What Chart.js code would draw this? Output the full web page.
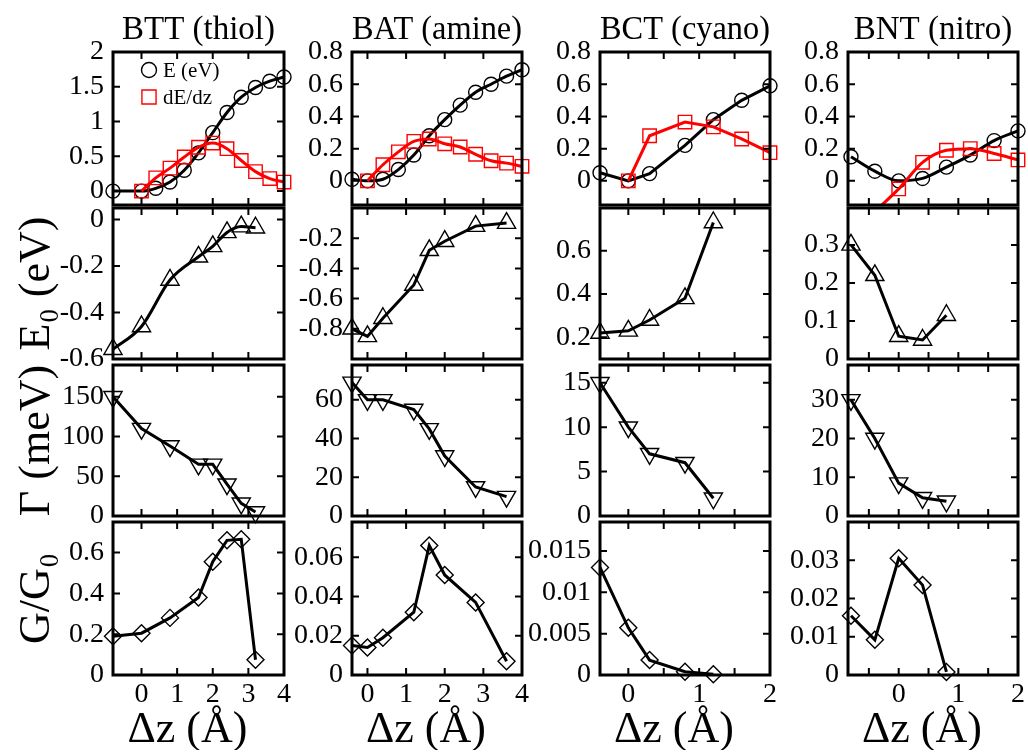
<!DOCTYPE html>
<html>
<head>
<meta charset="utf-8">
<script src="https://cdn.jsdelivr.net/npm/chart.js@4.4.1/dist/chart.umd.min.js"></script>
<style>
  body { margin: 0; background: #fff; width: 1028px; height: 753px; overflow: hidden; position: relative; }
  canvas { position: absolute; }
</style>
</head>
<body>
<script>
const FONT = "'Liberation Serif', 'DejaVu Serif', serif";

// ---- data ----
// BTT (thiol)
const bttZe = [-0.8, 0, 0.4, 0.8, 1.2, 1.6, 2.0, 2.4, 2.8, 3.2, 3.6, 4.0];
const bttE = [0.0, 0.0, 0.04, 0.13, 0.30, 0.55, 0.84, 1.13, 1.35, 1.49, 1.58, 1.64];
const bttZd = [0, 0.4, 0.8, 1.2, 1.6, 2.0, 2.4, 2.8, 3.2, 3.6, 4.0];
const bttDE = [0.0, 0.19, 0.33, 0.49, 0.63, 0.69, 0.61, 0.44, 0.28, 0.18, 0.13];
const bttZ = [-0.8, 0, 0.8, 1.6, 2.0, 2.4, 2.8, 3.2];
const bttE0 = [-0.558, -0.46, -0.26, -0.16, -0.115, -0.055, -0.03, -0.035];
const bttGamma = [150, 110, 88, 65, 65, 40, 16, 5];
const bttG = [0.19, 0.205, 0.28, 0.38, 0.555, 0.66, 0.665, 0.075];

// BAT (amine)
const batZe = [-0.4, 0, 0.4, 0.8, 1.2, 1.6, 2.0, 2.4, 2.8, 3.2, 3.6, 4.0];
const batE = [0.01, 0.0, 0.01, 0.07, 0.16, 0.28, 0.38, 0.47, 0.55, 0.60, 0.65, 0.69];
const batZd = [0, 0.4, 0.8, 1.2, 1.6, 2.0, 2.4, 2.8, 3.2, 3.6, 4.0];
const batDE = [0.0, 0.10, 0.18, 0.245, 0.26, 0.23, 0.21, 0.165, 0.125, 0.11, 0.09];
const batZ = [-0.4, 0, 0.4, 1.2, 1.6, 2.0, 2.8, 3.6];
const batE0 = [-0.80, -0.85, -0.73, -0.51, -0.28, -0.22, -0.12, -0.10];
const batGamma = [69, 60, 60, 55, 45, 31, 15, 10];
const batG = [0.015, 0.014, 0.019, 0.032, 0.066, 0.051, 0.037, 0.007];

// BCT (cyano)
const bctZe = [-0.4, 0, 0.3, 0.8, 1.2, 1.6, 2.0];
const bctE = [0.05, 0.0, 0.045, 0.22, 0.38, 0.50, 0.59];
const bctZd = [0, 0.3, 0.8, 1.2, 1.6, 2.0];
const bctDE = [0.0, 0.28, 0.365, 0.335, 0.26, 0.175];
const bctZ = [-0.4, 0, 0.3, 0.8, 1.2];
const bctE0 = [0.22, 0.23, 0.28, 0.38, 0.73];
const bctGamma = [15, 10, 7, 6, 2];
const bctG = [0.013, 0.0057, 0.0018, 0.0004, 0.0001];

// BNT (nitro)
const bntZe = [-0.8, -0.4, 0, 0.4, 0.8, 1.2, 1.6, 2.0];
const bntE = [0.15, 0.06, 0.0, 0.015, 0.085, 0.16, 0.25, 0.31];
const bntZd = [-0.4, 0, 0.4, 0.8, 1.2, 1.6, 2.0];
const bntDE = [-0.19, -0.05, 0.115, 0.19, 0.20, 0.17, 0.13];
const bntZ = [-0.8, -0.4, 0, 0.4, 0.8];
const bntE0 = [0.30, 0.22, 0.06, 0.05, 0.115];
const bntGamma = [30, 20, 8.5, 4.7, 3.8];
const bntG = [0.0155, 0.0092, 0.0305, 0.0235, 0.0008];

// ---- axes ----
const titles = ["BTT (thiol)", "BAT (amine)", "BCT (cyano)", "BNT (nitro)"];
const rowTitles = [null, "E\u2080 (eV)", "\u0393 (meV)", "G/G\u2080"];
const xTitle = "\u0394z (\u00c5)";

const xRanges = [[-0.8, 4], [-0.4, 4], [-0.4, 2], [-0.85, 2]];
const xTicks = [[0, 1, 2, 3, 4], [0, 1, 2, 3, 4], [0, 0.5, 1, 1.5, 2], [-0.5, 0, 0.5, 1, 1.5, 2]];
const xLabels = [[0, 1, 2, 3, 4], [0, 1, 2, 3, 4], [0, 1, 2], [0, 1, 2]];

// y ranges per [row][col]
const yRanges = [
  [[-0.2, 2], [-0.15, 0.8], [-0.15, 0.8], [-0.15, 0.8]],
  [[-0.6, 0.05], [-1, 0], [0.1, 0.797], [0, 0.397]],
  [[0, 190], [0, 78], [0, 17], [0, 39]],
  [[0, 0.75], [0, 0.078], [0, 0.0185], [0, 0.04]]
];
const yTicks = [
  [[0, 0.5, 1, 1.5, 2], [0, 0.2, 0.4, 0.6, 0.8], [0, 0.2, 0.4, 0.6, 0.8], [0, 0.2, 0.4, 0.6, 0.8]],
  [[-0.6, -0.4, -0.2, 0], [-0.8, -0.6, -0.4, -0.2], [0.2, 0.4, 0.6], [0, 0.1, 0.2, 0.3]],
  [[0, 50, 100, 150], [0, 20, 40, 60], [0, 5, 10, 15], [0, 10, 20, 30]],
  [[0, 0.2, 0.4, 0.6], [0, 0.02, 0.04, 0.06], [0, 0.005, 0.01, 0.015], [0, 0.01, 0.02, 0.03]]
];

// panel frames in page pixels
const colLeft = [113, 352, 600, 848];
const colRight = [284, 522, 770, 1018];
const rowTop = [52, 208, 365, 522];
const rowBottom = [208, 365, 522, 678];

Chart.defaults.font.family = FONT;
Chart.defaults.color = '#000';

function pts(xs, ys) {
  return xs.map((x, i) => ({ x: x, y: ys[i] }));
}

const blackLine = {
  borderColor: '#000', borderWidth: 3, showLine: true, clip: false,
  pointBorderColor: '#000', pointBackgroundColor: 'rgba(0,0,0,0)', pointBorderWidth: 1.4
};
const redLine = Object.assign({}, blackLine, { borderColor: '#ff0000', pointBorderColor: '#ff0000' });

function circles(xs, ys, smooth) {
  return Object.assign({}, blackLine, { data: pts(xs, ys), pointStyle: 'circle', pointRadius: 7,
    cubicInterpolationMode: smooth ? 'monotone' : 'default' });
}
function squares(xs, ys, smooth) {
  return Object.assign({}, redLine, { data: pts(xs, ys), pointStyle: 'rect', pointRadius: 9.5,
    cubicInterpolationMode: smooth ? 'monotone' : 'default' });
}
function tri(xs, ys, smooth) {
  return Object.assign({}, blackLine, { data: pts(xs, ys), pointStyle: 'triangle', pointRadius: 10.5,
    cubicInterpolationMode: smooth ? 'monotone' : 'default' });
}
function triDown(xs, ys) {
  return Object.assign({}, blackLine, { data: pts(xs, ys), pointStyle: 'triangle', pointRadius: 10.5, pointRotation: 180 });
}
function diamonds(xs, ys) {
  return Object.assign({}, blackLine, { data: pts(xs, ys), pointStyle: 'rectRot', pointRadius: 8.5 });
}

// frame with inward ticks on all four sides
const framePlugin = {
  id: 'frame',
  afterDatasetsDraw(chart, args, opts) {
    const { ctx, chartArea: a, scales } = chart;
    const tl = 7;
    ctx.save();
    ctx.strokeStyle = '#000';
    ctx.lineWidth = 2;
    ctx.beginPath();
    opts.xt.forEach(v => {
      const px = scales.x.getPixelForValue(v);
      ctx.moveTo(px, a.top); ctx.lineTo(px, a.top + tl);
      ctx.moveTo(px, a.bottom); ctx.lineTo(px, a.bottom - tl);
    });
    opts.yt.forEach(v => {
      const py = scales.y.getPixelForValue(v);
      ctx.moveTo(a.left, py); ctx.lineTo(a.left + tl, py);
      ctx.moveTo(a.right, py); ctx.lineTo(a.right - tl, py);
    });
    ctx.stroke();
    ctx.lineWidth = 3;
    ctx.strokeRect(a.left, a.top, a.right - a.left, a.bottom - a.top);
    ctx.restore();
  }
};

// legend drawn inside the first panel
const insetLegend = {
  id: 'insetLegend',
  afterDraw(chart, args, opts) {
    if (!opts.items) return;
    const { ctx, chartArea: a } = chart;
    ctx.save();
    opts.items.forEach((it, i) => {
      const y = a.top + 18 + i * 27;
      ctx.lineWidth = 1.4;
      ctx.strokeStyle = it.color;
      ctx.fillStyle = 'rgba(0,0,0,0)';
      Chart.helpers.drawPoint(ctx, { pointStyle: it.style, radius: it.r, borderWidth: 1.4, rotation: 0 }, a.left + 36, y);
      ctx.fillStyle = '#000';
      ctx.font = '21px ' + FONT;
      ctx.textBaseline = 'middle';
      ctx.fillText(it.text, a.left + 50, y + 1);
    });
    ctx.restore();
  }
};

function addPanel(col, row, datasets, legendItems) {
  const L = col === 0 ? colLeft[0] : 90;
  const R = 16;
  const pw = colRight[col] - colLeft[col];
  const ph = rowBottom[row] - rowTop[row];
  const top = row === 0 ? 52 : 20;
  const bottom = row === 3 ? 75 : 20;

  const canvas = document.createElement('canvas');
  canvas.width = L + pw + R;
  canvas.height = top + ph + bottom;
  canvas.style.width = canvas.width + 'px';
  canvas.style.height = canvas.height + 'px';
  canvas.style.left = (colLeft[col] - L) + 'px';
  canvas.style.top = (rowTop[row] - top) + 'px';
  document.body.appendChild(canvas);

  const yt = yTicks[row][col];
  const hidden = { display: false, drawTicks: false };
  const chart = new Chart(canvas, {
    type: 'scatter',
    data: { datasets: datasets },
    options: {
      responsive: false,
      maintainAspectRatio: false,
      animation: false,
      events: [],
      layout: { padding: { left: 0, right: R, top: row === 0 ? 0 : 20, bottom: row === 3 ? 0 : 20 } },
      plugins: {
        legend: { display: false },
        tooltip: { enabled: false },
        frame: { xt: xTicks[col], yt: yt },
        insetLegend: { items: legendItems || null }
      },
      scales: {
        // column title, centred over the plot area
        top: {
          type: 'linear',
          position: 'top',
          min: xRanges[col][0],
          max: xRanges[col][1],
          display: row === 0,
          grid: hidden,
          border: { display: false },
          ticks: { display: false },
          afterFit: ax => { ax.height = row === 0 ? 52 : 0; },
          title: { display: true, text: titles[col], color: '#000',
            font: { size: 33, lineHeight: 1 }, padding: { top: 14, bottom: 0 } }
        },
        x: {
          type: 'linear',
          min: xRanges[col][0],
          max: xRanges[col][1],
          display: row === 3,
          grid: hidden,
          border: { display: false },
          ticks: { autoSkip: false, padding: 6, font: { size: 28, lineHeight: 1 }, color: '#000',
            callback: v => String(v) },
          afterBuildTicks: ax => { ax.ticks = xLabels[col].map(v => ({ value: v })); },
          afterFit: ax => { ax.height = row === 3 ? 75 : 0; },
          title: { display: true, text: xTitle + '\u2002', color: '#000',
            font: { size: 44, lineHeight: 1 }, padding: { top: 0, bottom: -2 } }
        },
        y: {
          type: 'linear',
          min: yRanges[row][col][0],
          max: yRanges[row][col][1],
          grid: hidden,
          border: { display: false },
          ticks: { autoSkip: false, padding: 9, font: { size: 28, lineHeight: 1 }, color: '#000',
            callback: v => String(v) },
          afterBuildTicks: ax => { ax.ticks = yt.map(v => ({ value: v })); },
          afterFit: ax => { ax.width = L; },
          title: {
            display: col === 0 && row > 0,
            text: rowTitles[row] || '',
            color: '#000',
            font: { size: 44, lineHeight: 1 },
            padding: { top: 15, bottom: 0 }
          }
        }
      }
    },
    plugins: [framePlugin, insetLegend]
  });

  // shift the canvas so the plot area sits exactly on the frame
  const ca = chart.chartArea;
  canvas.style.left = (colLeft[col] - ca.left) + 'px';
  canvas.style.top = (rowTop[row] - ca.top) + 'px';
  return chart;
}

// row 1: E and dE/dz
addPanel(0, 0, [squares(bttZd, bttDE, true), circles(bttZe, bttE, true)], [
  { style: 'circle', r: 7.5, color: '#000', text: 'E (eV)' },
  { style: 'rect', r: 10, color: '#ff0000', text: 'dE/dz' }
]);
addPanel(1, 0, [squares(batZd, batDE, true), circles(batZe, batE, true)]);
addPanel(2, 0, [squares(bctZd, bctDE, false), circles(bctZe, bctE, false)]);
const bntRed = squares(bntZd, bntDE, true);
bntRed.clip = { left: 20, right: 20, top: 20, bottom: 0 };
addPanel(3, 0, [bntRed, circles(bntZe, bntE, true)]);

// row 2: E0
addPanel(0, 1, [tri(bttZ, bttE0, true)]);
addPanel(1, 1, [tri(batZ, batE0, false)]);
addPanel(2, 1, [tri(bctZ, bctE0, false)]);
addPanel(3, 1, [tri(bntZ, bntE0, false)]);

// row 3: Gamma
addPanel(0, 2, [triDown(bttZ, bttGamma)]);
addPanel(1, 2, [triDown(batZ, batGamma)]);
addPanel(2, 2, [triDown(bctZ, bctGamma)]);
addPanel(3, 2, [triDown(bntZ, bntGamma)]);

// row 4: G/G0
addPanel(0, 3, [diamonds(bttZ, bttG)]);
addPanel(1, 3, [diamonds(batZ, batG)]);
addPanel(2, 3, [diamonds(bctZ, bctG)]);
addPanel(3, 3, [diamonds(bntZ, bntG)]);
</script>
</body>
</html>
